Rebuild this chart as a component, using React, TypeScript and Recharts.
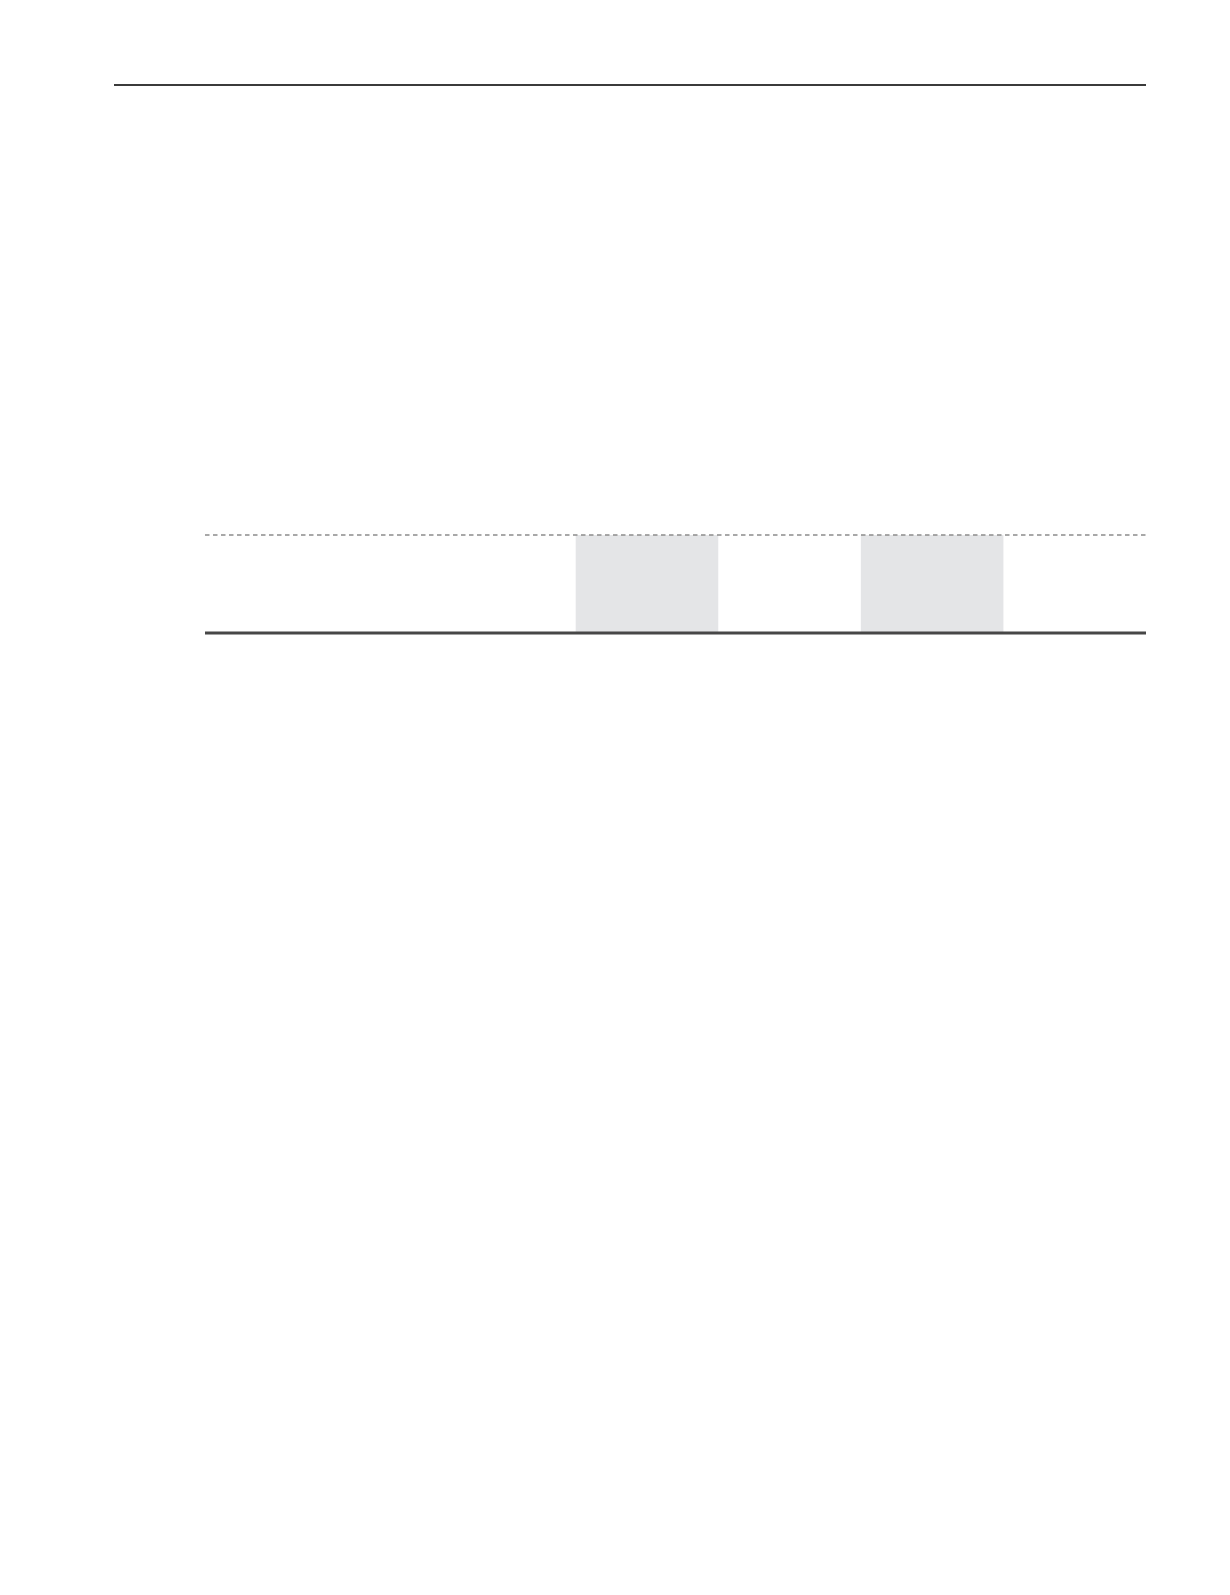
import React from 'react';
import { ComposedChart, Area, XAxis, YAxis, ReferenceLine } from 'recharts';

// Positions along the time axis (in band units) and the shaded flag at each step start
const xPositions = [0, 2.6, 3.6, 4.6, 5.6, 6.6];
const shadedFlags = [0, 1, 0, 1, 0, 0];
const xDomain = [0, 6.6];
const yDomain = [0, 1];

const data = xPositions.map((x, i) => ({ x, shaded: shadedFlags[i] }));

export default function App() {
  return (
    <div style={{ position: 'absolute', left: 0, top: 0, width: 1230, height: 1595, background: '#fff' }}>
      <div style={{ position: 'absolute', left: 114, top: 84, width: 1032, height: 2, background: '#3b3b3b' }} />
      <div style={{ position: 'absolute', left: 0, top: 0 }}>
        <ComposedChart
          width={1230}
          height={700}
          data={data}
          margin={{ top: 535, right: 84, bottom: 67, left: 205 }}
        >
          <XAxis type="number" dataKey="x" domain={xDomain} hide allowDataOverflow />
          <YAxis type="number" domain={yDomain} hide allowDataOverflow />
          <Area
            type="stepAfter"
            dataKey="shaded"
            stroke="none"
            fill="#e4e5e7"
            fillOpacity={1}
            isAnimationActive={false}
            dot={false}
            activeDot={false}
          />
          <ReferenceLine y={1} stroke="#8c8c8c" strokeWidth={1.5} strokeDasharray="4.5 3.5" />
          <ReferenceLine y={0} stroke="#474747" strokeWidth={3} />
        </ComposedChart>
      </div>
    </div>
  );
}
